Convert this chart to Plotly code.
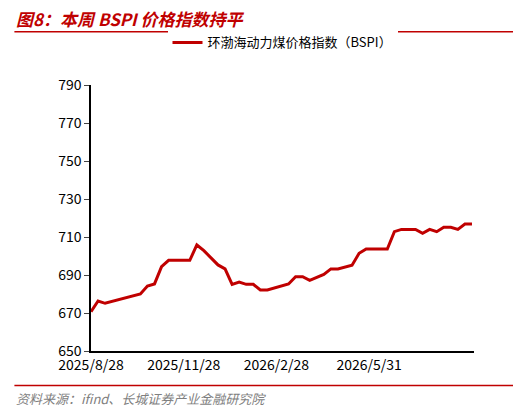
import plotly.graph_objects as go
import pandas as pd

base = "2025-08-28"
day_offsets = [0,7,14,49,56,63,70,77,98,105,112,126,133,140,147,154,161,168,175,196,203,210,217,224,231,238,245,259,266,273,294,301,308,322,329,336,343,350,357,364,371,378]
values = [670.7,676.3,675.1,680,684.2,685.3,694.4,697.7,697.7,705.8,702.8,695.3,693.2,685.1,686.3,685.1,685.1,682.1,682.1,685.3,689.1,689.1,687.2,688.6,690.3,693.2,693.2,695.1,701.4,703.7,703.7,712.8,714,714,711.9,714,712.8,715.1,715.1,714,716.8,716.8]
dates = [pd.Timestamp(base) + pd.Timedelta(days=d) for d in day_offsets]
tick_dates = ["2025-08-28","2025-11-28","2026-02-28","2026-05-31"]
tick_labels = ["2025/8/28","2025/11/28","2026/2/28","2026/5/31"]
y_ticks = [650,670,690,710,730,750,770,790]

fig = go.Figure(go.Scatter(x=dates, y=values, mode="lines", name="环渤海动力煤价格指数（BSPI）",
                           line=dict(color="#c00000", width=3)))
font = "Noto Sans CJK SC"
fig.update_layout(
    width=521, height=413, paper_bgcolor="white", plot_bgcolor="white",
    margin=dict(l=83, r=55, t=77, b=70),
    font=dict(family=font, size=14, color="black"),
    showlegend=True,
    legend=dict(orientation="h", x=0.5, xanchor="center", y=1.16, yanchor="middle", font=dict(size=13)),
    xaxis=dict(type="date", range=["2025-08-28","2026-09-12"], tickvals=tick_dates, ticktext=tick_labels,
               showline=True, linecolor="black", linewidth=1.5, ticks="", showgrid=False, tickfont=dict(size=14)),
    yaxis=dict(range=[650,790], tickvals=y_ticks, showline=True, linecolor="black", linewidth=1.5,
               ticks="outside", ticklen=5, showgrid=False, zeroline=False, tickfont=dict(size=14)),
    annotations=[
        dict(text="<b><i>图8：本周 BSPI 价格指数持平</i></b>", xref="paper", yref="paper", x=-0.2, y=1.25,
             xanchor="left", yanchor="middle", showarrow=False, font=dict(size=17, color="#c00000")),
        dict(text="<i>资料来源：ifind、长城证券产业金融研究院</i>", xref="paper", yref="paper", x=-0.2, y=-0.18,
             xanchor="left", yanchor="middle", showarrow=False, font=dict(size=13, color="#7f7f7f")),
    ],
    shapes=[
        dict(type="line", xref="paper", yref="paper", x0=-0.2, x1=1.12, y0=1.2, y1=1.2,
             line=dict(color="#c00000", width=1.5)),
        dict(type="line", xref="paper", yref="paper", x0=-0.2, x1=1.12, y0=-0.13, y1=-0.13,
             line=dict(color="#c00000", width=1.5)),
    ],
)
fig.write_html("out.html")
